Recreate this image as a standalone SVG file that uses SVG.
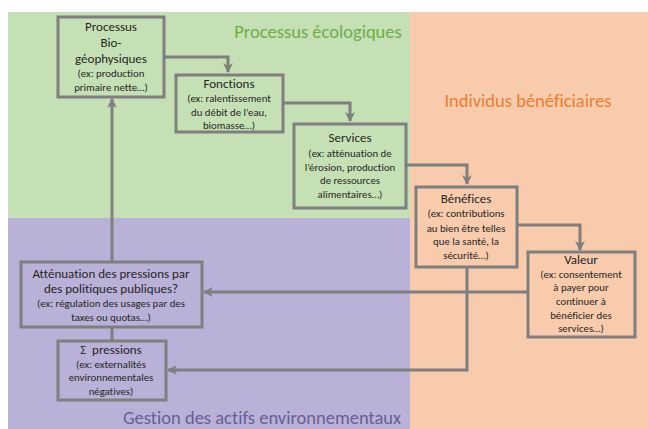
<svg xmlns="http://www.w3.org/2000/svg" width="648" height="429" viewBox="0 0 648 429">
<defs>
<style>
.box{fill:none;stroke:#7f7f7f;stroke-width:3}
.conn{fill:none;stroke:#7f7f7f;stroke-width:3}
text{font-family:Carlito,Lato,"Liberation Sans",sans-serif;fill:#262626;text-anchor:middle;font-variant-ligatures:none}
.t{font-size:13px}
.d{font-size:10.8px}
.region{font-size:18.5px}
</style>
<marker id="arr" viewBox="0 0 10 10" refX="9" refY="5" markerWidth="10" markerHeight="10" markerUnits="userSpaceOnUse" orient="auto">
<path d="M0,0 L10,5 L0,10 L3,5 z" fill="#7f7f7f"/>
</marker>
</defs>
<rect width="648" height="429" fill="#ffffff"/>
<g id="backgrounds">
<rect x="8" y="12" width="402" height="206" fill="#c5e0b4"/>
<rect x="8" y="218" width="402" height="211" fill="#b9b1d7"/>
<rect x="410" y="12" width="238" height="417" fill="#f8cbad"/>
<text class="region" x="318" y="38" style="fill:#70ad47">Processus écologiques</text>
<text class="region" x="528" y="107" style="fill:#ed7d31">Individus bénéficiaires</text>
<text class="region" x="262" y="424" style="fill:#675e97">Gestion des actifs environnementaux</text>
</g>
<g id="connectors">
<path class="conn" d="M165,57 H228 V72" marker-end="url(#arr)"/>
<path class="conn" d="M283,103 H350 V121" marker-end="url(#arr)"/>
<path class="conn" d="M406,165 H467 V184" marker-end="url(#arr)"/>
<path class="conn" d="M517,225 H580 V250" marker-end="url(#arr)"/>
<path class="conn" d="M527,292 H204" marker-end="url(#arr)"/>
<path class="conn" d="M467,267 V370 H168" marker-end="url(#arr)"/>
<path class="conn" d="M112,341 V327"/>
<path class="conn" d="M112,262 V99" marker-end="url(#arr)"/>
</g>
<g id="processus">
<rect class="box" x="58" y="17" width="106" height="80"/>
<text class="t" x="111" y="31">Processus</text>
<text class="t" x="111" y="47">Bio-</text>
<text class="t" x="111" y="63">géophysiques</text>
<text class="d" x="111" y="77">(ex: production</text>
<text class="d" x="111" y="91">primaire nette…)</text>
</g>
<g id="fonctions">
<rect class="box" x="176" y="75" width="107" height="57"/>
<text class="t" x="229" y="88">Fonctions</text>
<text class="d" x="229" y="102">(ex: ralentissement</text>
<text class="d" x="229" y="116">du débit de l’eau,</text>
<text class="d" x="229" y="129">biomasse…)</text>
</g>
<g id="services">
<rect class="box" x="294" y="124" width="112" height="84"/>
<text class="t" x="350" y="142">Services</text>
<text class="d" x="350" y="157">(ex: atténuation de</text>
<text class="d" x="350" y="171">l’érosion, production</text>
<text class="d" x="350" y="184">de ressources</text>
<text class="d" x="350" y="198">alimentaires…)</text>
</g>
<g id="benefices">
<rect class="box" x="416" y="187" width="101" height="80"/>
<text class="t" x="466" y="203">Bénéfices</text>
<text class="d" x="466" y="217">(ex: contributions</text>
<text class="d" x="466" y="232">au bien être telles</text>
<text class="d" x="466" y="245">que la santé, la</text>
<text class="d" x="466" y="259">sécurité…)</text>
</g>
<g id="valeur">
<rect class="box" x="528" y="252" width="107" height="85"/>
<text class="t" x="581" y="264">Valeur</text>
<text class="d" x="581" y="278">(ex: consentement</text>
<text class="d" x="581" y="291">à payer pour</text>
<text class="d" x="581" y="305">continuer à</text>
<text class="d" x="581" y="319">bénéficier des</text>
<text class="d" x="581" y="332">services…)</text>
</g>
<g id="attenuation">
<rect class="box" x="21" y="262" width="181" height="65"/>
<text class="t" x="111" y="278">Atténuation des pressions par</text>
<text class="t" x="111" y="293">des politiques publiques?</text>
<text class="d" x="111" y="307">(ex: régulation des usages par des</text>
<text class="d" x="111" y="321">taxes ou quotas…)</text>
</g>
<g id="pressions">
<rect class="box" x="58" y="341" width="108" height="59"/>
<text class="t" x="111" y="354">Σ&#160; pressions</text>
<text class="d" x="111" y="368">(ex: externalités</text>
<text class="d" x="111" y="381">environnementales</text>
<text class="d" x="111" y="395">négatives)</text>
</g>
</svg>
